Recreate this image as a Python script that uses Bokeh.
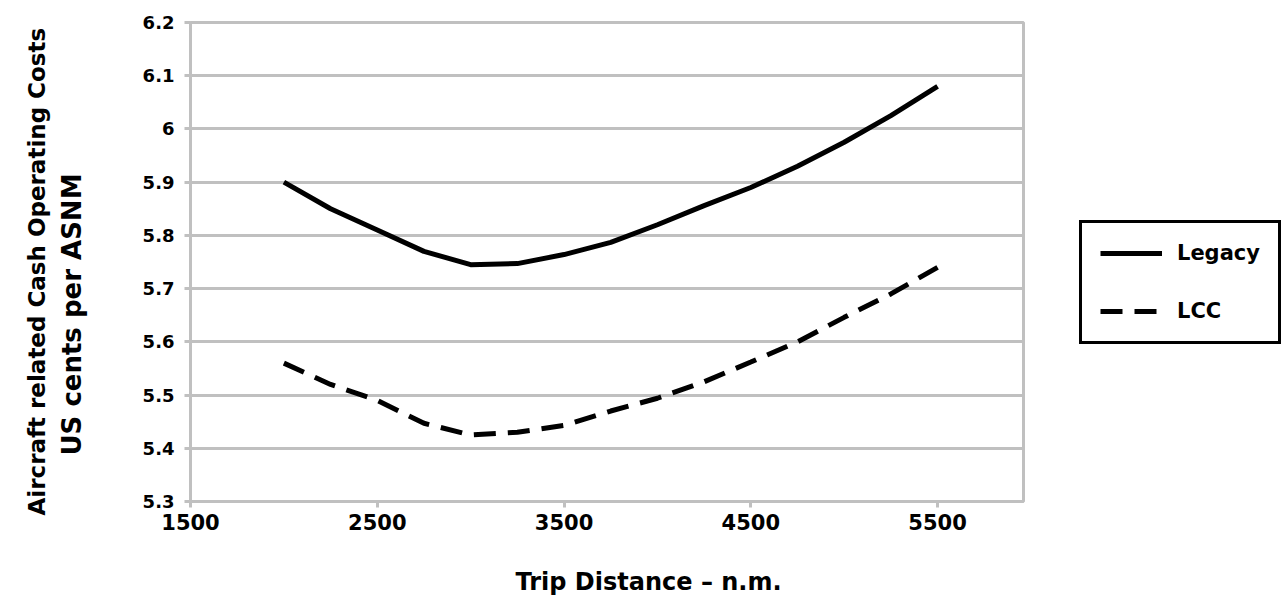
from bokeh.plotting import figure
from bokeh.models import FixedTicker, Legend, LegendItem, Title, Range1d
from bokeh.embed import file_html
from bokeh.resources import INLINE

# ---- data ----
trip_distance = [2000, 2250, 2500, 2750, 3000, 3250, 3500, 3750,
                 4000, 4250, 4500, 4750, 5000, 5250, 5500]
legacy = [5.900, 5.850, 5.810, 5.770, 5.745, 5.747, 5.764, 5.787,
          5.820, 5.856, 5.890, 5.930, 5.975, 6.025, 6.080]
lcc = [5.560, 5.520, 5.490, 5.447, 5.425, 5.430, 5.443, 5.470,
       5.494, 5.525, 5.562, 5.600, 5.646, 5.690, 5.740]

x_ticks = [1500, 2500, 3500, 4500, 5500]
y_ticks = [5.3, 5.4, 5.5, 5.6, 5.7, 5.8, 5.9, 6.0, 6.1, 6.2]
y_tick_labels = ["5.3", "5.4", "5.5", "5.6", "5.7", "5.8", "5.9", "6", "6.1", "6.2"]

FONT = "DejaVu Sans"
GRAY = "#c0c0c0"

p = figure(frame_width=833, frame_height=479, output_backend="svg", toolbar_location=None,
           x_range=Range1d(1500, 5960), y_range=Range1d(5.3, 6.2),
           min_border_left=190, min_border_top=22, min_border_right=245,
           min_border_bottom=90)

p.outline_line_color = GRAY
p.outline_line_width = 3
p.background_fill_color = "white"
p.border_fill_color = "white"

# grid
p.xgrid.visible = False
p.ygrid.ticker = FixedTicker(ticks=y_ticks)
p.ygrid.grid_line_color = GRAY
p.ygrid.grid_line_width = 3

# axes
p.xaxis.ticker = FixedTicker(ticks=x_ticks)
p.yaxis.ticker = FixedTicker(ticks=y_ticks)
p.yaxis.major_label_overrides = {v: s for v, s in zip(y_ticks, y_tick_labels)}
for ax in (p.xaxis[0], p.yaxis[0]):
    ax.axis_line_color = GRAY
    ax.axis_line_width = 3
    ax.major_tick_line_color = GRAY
    ax.major_tick_line_width = 3
    ax.major_tick_out = 6
    ax.major_tick_in = 0
    ax.minor_tick_line_color = None
    ax.major_label_text_font = FONT
    ax.major_label_text_font_style = "bold"
    ax.major_label_text_color = "black"
p.xaxis.major_label_standoff = 6
p.yaxis.major_label_standoff = 10
p.xaxis.major_label_text_font_size = "21px"
p.yaxis.major_label_text_font_size = "18px"

# lines
r1 = p.line(trip_distance, legacy, line_color="black", line_width=5)
r2 = p.line(trip_distance, lcc, line_color="black", line_width=5, line_dash="22 12")

# axis titles
t_line2 = Title(text="US cents per ASNM", align="left", offset=46,
                text_font=FONT, text_font_style="bold", text_font_size="26px",
                text_color="black", standoff=105)
p.add_layout(t_line2, "left")

t_line1 = Title(text="Aircraft related Cash Operating Costs", align="left", offset=-14,
                text_font=FONT, text_font_style="bold", text_font_size="23px",
                text_color="black", standoff=-95)
p.add_layout(t_line1, "left")

t_x = Title(text="Trip Distance \u2013 n.m.", align="left", offset=325,
            text_font=FONT, text_font_style="bold", text_font_size="24px",
            text_color="black", standoff=67)
p.add_layout(t_x, "below")

# legend
legend = Legend(items=[LegendItem(label="Legacy", renderers=[r1]),
                       LegendItem(label="LCC", renderers=[r2])],
                location=(56, 157),
                border_line_color="black", border_line_width=3, border_line_alpha=1.0,
                label_text_font=FONT, label_text_font_style="bold",
                label_text_font_size="21px", label_text_color="black",
                glyph_width=62, glyph_height=20, label_height=20,
                spacing=34, padding=18, label_standoff=15, margin=0)
p.add_layout(legend, "right")

open("out.html", "w").write(file_html(p, INLINE))
